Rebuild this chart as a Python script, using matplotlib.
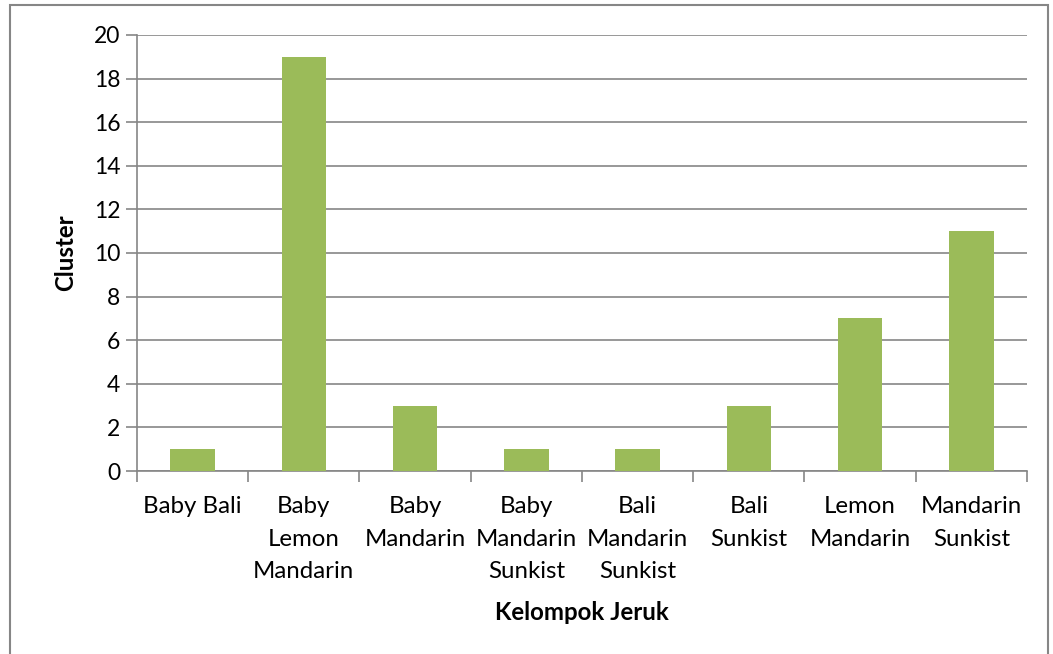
import numpy as np
import matplotlib.pyplot as plt
from matplotlib.patches import Rectangle

categories = ["Baby Bali", "Baby\nLemon\nMandarin", "Baby\nMandarin", "Baby\nMandarin\nSunkist",
              "Bali\nMandarin\nSunkist", "Bali\nSunkist", "Lemon\nMandarin", "Mandarin\nSunkist"]
values = [1, 19, 3, 1, 1, 3, 7, 11]
y_ticks = [0, 2, 4, 6, 8, 10, 12, 14, 16, 18, 20]

plt.rcParams['font.family'] = ['Lato', 'DejaVu Sans']
grey = "#868686"

fig = plt.figure(figsize=(10.53, 6.54), dpi=100)
ax = fig.add_axes([0.1301, 0.2798, 0.8452, 0.6667])

x = np.arange(len(categories))
ax.bar(x, values, width=0.4, color="#9BBB59", zorder=3)

ax.set_xlim(-0.5, len(categories) - 0.5)
ax.set_ylim(0, 20)
ax.set_yticks(y_ticks)
ax.set_xticks(x)
ax.set_xticklabels(categories, linespacing=1.68, fontsize=17.3, va="top")
ax.set_xticks(np.arange(len(categories) + 1) - 0.5, minor=True)
ax.tick_params(axis="x", which="major", length=0, pad=18)
ax.tick_params(axis="x", which="minor", length=8, color=grey, width=1.2, direction="out")
ax.tick_params(axis="y", length=8, color=grey, width=1.2, labelsize=16.5, pad=4)

ax.grid(axis="y", color=grey, linewidth=1.2, zorder=0)
for s in ["top", "right"]:
    ax.spines[s].set_visible(False)
for s in ["left", "bottom"]:
    ax.spines[s].set_color(grey)
    ax.spines[s].set_linewidth(1.2)

ax.set_ylabel("Cluster", fontsize=17.3, fontweight="bold", labelpad=12)
fig.text(0.5527, 1 - 612 / 654, "Kelompok Jeruk", fontsize=17.3, fontweight="bold",
         ha="center", va="center")

fig.patches.append(Rectangle((10 / 1053, -0.1), 1038 / 1053, 1.1 - 5 / 654,
                             transform=fig.transFigure, fill=False,
                             edgecolor=grey, linewidth=1.5))

fig.savefig("out.png", dpi=100)
